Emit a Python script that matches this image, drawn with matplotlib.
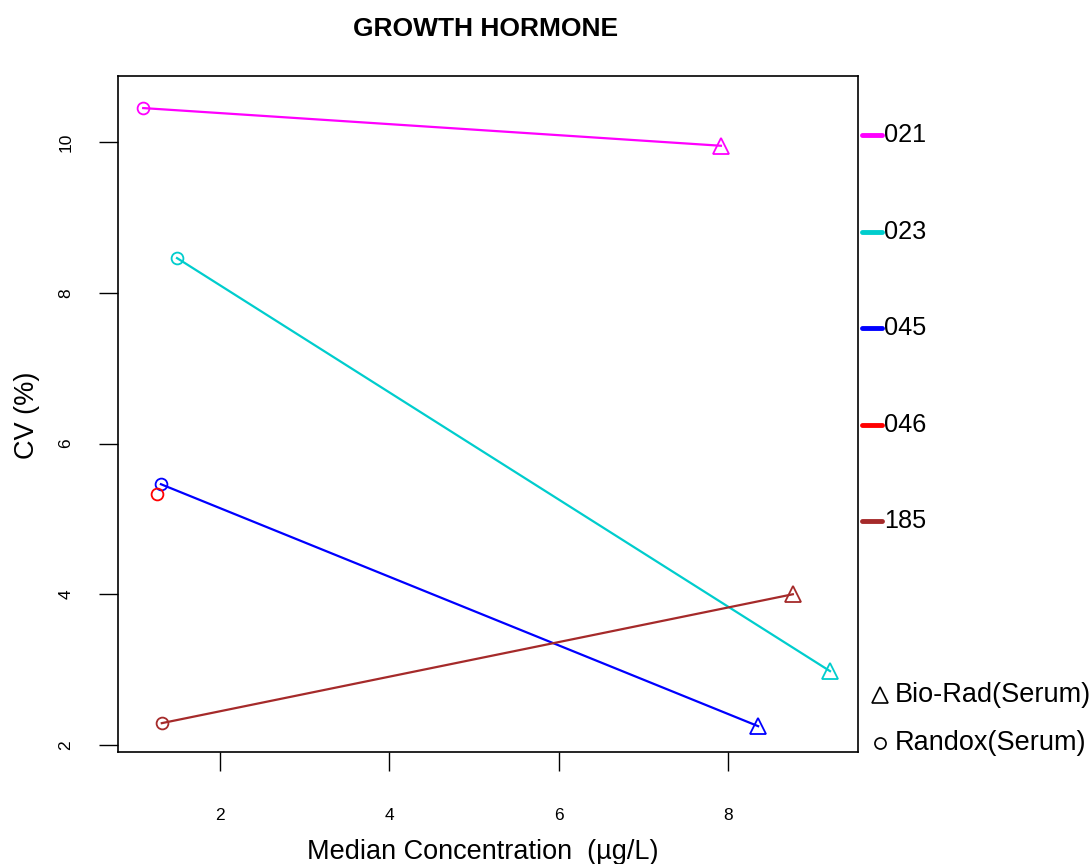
import numpy as np
import matplotlib.pyplot as plt
from matplotlib.lines import Line2D

plt.rcParams['font.family'] = ['Liberation Sans', 'DejaVu Sans']

# lab codes and their colours
labs = ['021', '023', '045', '046', '185']
colors = ['#FF00FF', '#00CDCD', '#0000FF', '#FF0000', '#A52A2A']

# Randox (Serum) points - circles
randox_conc = [1.09, 1.49, 1.30, 1.25, 1.31]
randox_cv = [10.45, 8.46, 5.46, 5.33, 2.29]

# Bio-Rad (Serum) points - triangles (046 has none)
biorad_conc = [7.92, 9.21, 8.36, np.nan, 8.77]
biorad_cv = [9.95, 2.98, 2.25, np.nan, 4.00]

fig = plt.figure(figsize=(10.91, 8.64), dpi=100)
ax = fig.add_axes([0.1082, 0.1296, 0.6782, 0.7824])

for i, lab in enumerate(labs):
    c = colors[i]
    if not np.isnan(biorad_conc[i]):
        ax.plot([randox_conc[i], biorad_conc[i]], [randox_cv[i], biorad_cv[i]],
                color=c, lw=1.6, zorder=2)
        ax.plot(biorad_conc[i], biorad_cv[i], marker='^', ms=11, mfc='none',
                mec=c, mew=1.3, zorder=3)
    ax.plot(randox_conc[i], randox_cv[i], marker='o', ms=8.5, mfc='none',
            mec=c, mew=1.3, zorder=3)

ax.set_xlim(0.793, 9.54)
ax.set_ylim(1.907, 10.875)
ax.set_xticks([2, 4, 6, 8])
ax.set_yticks([2, 4, 6, 8, 10])
ax.tick_params(axis='x', length=14, width=1, pad=26, labelsize=12.5)
ax.tick_params(axis='y', length=14, width=1, pad=18, labelsize=12.5,
               labelrotation=90)
for lbl in ax.get_yticklabels():
    lbl.set_va('center')
for sp in ax.spines.values():
    sp.set_linewidth(1.2)

fig.text(0.4423, 0.0139, 'Median Concentration  (µg/L)', fontsize=19.5,
         ha='center', va='center')
fig.text(0.0245, 0.519, 'CV (%)', fontsize=19.5, rotation=90,
         ha='center', va='center')
fig.text(0.445, 0.967, 'GROWTH HORMONE', fontsize=19, fontweight='bold',
         ha='center', va='center')

# lab legend on the right
for i, lab in enumerate(labs):
    yy = 0.9127 - i * 0.1428
    ax.add_line(Line2D([1.0054, 1.0324], [yy, yy], transform=ax.transAxes,
                       color=colors[i], lw=3.5, solid_capstyle='round',
                       clip_on=False))
    ax.text(1.035, yy, lab, transform=ax.transAxes, fontsize=18.2,
            va='center', ha='left')

# marker legend
ax.plot([1.030], [0.0843], marker='^', ms=12, mfc='none', mec='black',
        mew=1.2, transform=ax.transAxes, clip_on=False)
ax.text(1.050, 0.0843, 'Bio-Rad(Serum)', transform=ax.transAxes, fontsize=19.5,
        va='center', ha='left')
ax.plot([1.030], [0.0133], marker='o', ms=8, mfc='none', mec='black',
        mew=1.2, transform=ax.transAxes, clip_on=False)
ax.text(1.050, 0.0133, 'Randox(Serum)', transform=ax.transAxes, fontsize=19.5,
        va='center', ha='left')

fig.savefig('out.png', dpi=100)
